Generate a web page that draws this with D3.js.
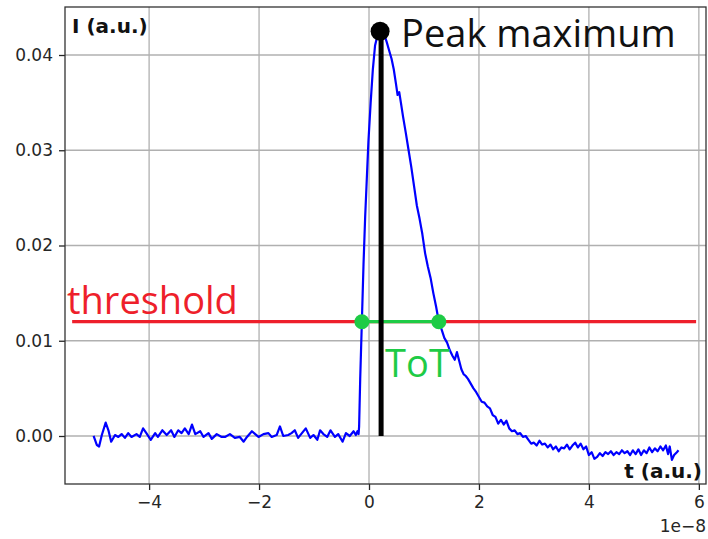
<!DOCTYPE html>
<html>
<head>
<meta charset="utf-8">
<script src="https://cdn.jsdelivr.net/npm/d3@7"></script>
<style>
  body { margin: 0; background: #fff; }
  svg { display: block; }
</style>
</head>
<body>
<svg id="chart" width="708" height="539"></svg>
<script>
// time axis in units of 1e-8, intensity in a.u.
const timeVals = [
  -5.01, -4.95, -4.91, -4.86, -4.79, -4.74, -4.69, -4.62, -4.56, -4.50, -4.44, -4.38, -4.32, -4.23,
  -4.17, -4.11, -4.05, -3.97, -3.89, -3.84, -3.76, -3.68, -3.60, -3.54, -3.47, -3.41, -3.35, -3.28,
  -3.22, -3.16, -3.07, -3.01, -2.92, -2.86, -2.77, -2.68, -2.62, -2.53, -2.44, -2.35, -2.28, -2.22,
  -2.13, -2.07, -2.01, -1.92, -1.83, -1.77, -1.68, -1.62, -1.56, -1.47, -1.41, -1.35, -1.29, -1.22,
  -1.15, -1.07, -1.01, -0.94, -0.89, -0.83, -0.76, -0.70, -0.62, -0.56, -0.48, -0.42, -0.35, -0.28,
  -0.24, -0.21, -0.19,
  -0.18, -0.16, -0.13, -0.10, -0.07, -0.04, -0.01, 0.03, 0.07, 0.11, 0.16, 0.22, 0.28, 0.32, 0.37,
  0.41, 0.45, 0.49, 0.52, 0.55, 0.58, 0.62, 0.67, 0.72, 0.77, 0.82, 0.87, 0.92, 0.97, 1.02, 1.07,
  1.12, 1.17, 1.22, 1.27, 1.32, 1.37, 1.42, 1.47, 1.52, 1.56, 1.60, 1.64, 1.68, 1.72, 1.76, 1.80,
  1.85, 1.90, 1.95, 2.00, 2.05, 2.10, 2.15, 2.20, 2.25, 2.30, 2.35, 2.40, 2.45, 2.50, 2.55, 2.60,
  2.65, 2.70, 2.75, 2.80, 2.85, 2.90, 2.95, 3.00, 3.05, 3.10, 3.15, 3.20, 3.25, 3.30, 3.35, 3.40,
  3.45, 3.50, 3.55, 3.60, 3.65, 3.70, 3.75, 3.80, 3.85, 3.90, 3.95, 4.00, 4.05, 4.10, 4.15, 4.20,
  4.25, 4.30, 4.35, 4.40, 4.45, 4.50, 4.55, 4.60, 4.65, 4.70, 4.75, 4.80, 4.85, 4.90, 4.95, 5.00,
  5.05, 5.10, 5.15, 5.20, 5.25, 5.30, 5.35, 5.40, 5.44, 5.47, 5.51, 5.55, 5.60, 5.63
];
const intensity = [
  0.0000, -0.00095, -0.0011, 0.0001, 0.0014, 0.0006, -0.0006, 0.0001, -0.0001, 0.0002, -0.0002, 0.0003, -0.0001, 0.0002,
  -0.0001, 0.0008, 0.0003, -0.0004, 0.0003, -0.0001, 0.0006, 0.0001, 0.0006, -0.0001, 0.0006, 0.0003, 0.0008, 0.0002,
  0.0012, 0.0002, 0.0005, -0.0001, 0.0003, -0.0003, 0.0002, -0.0001, -0.0001, 0.0002, -0.0002, -0.0001, -0.0006, -0.0001,
  0.0005, 0.0002, -0.0001, 0.0002, 0.0003, -0.0001, 0.0001, 0.0010, 0.0000, 0.0001, 0.0003, 0.0006, -0.0002, 0.0003,
  0.0008, -0.0002, 0.0001, -0.0004, 0.0006, 0.0002, -0.0001, 0.0006, -0.0001, 0.0002, -0.0006, 0.0003, 0.0000, 0.0005,
  0.0001, 0.0005, 0.0002,
  0.0010, 0.0060, 0.0120, 0.0180, 0.0230, 0.0270, 0.0310, 0.0350, 0.0385, 0.0410, 0.0422, 0.0425, 0.0421, 0.0414, 0.0404,
  0.0396, 0.0385, 0.0370, 0.0358, 0.0361, 0.0350, 0.0335, 0.0318, 0.0300, 0.0282, 0.0262, 0.0242, 0.0228, 0.0212, 0.0192, 0.0178,
  0.0166, 0.0150, 0.0136, 0.0120, 0.0112, 0.0103, 0.0098, 0.0090, 0.0084, 0.0080, 0.0088, 0.0079, 0.0070, 0.0065, 0.0063, 0.0060,
  0.0055, 0.0050, 0.0046, 0.0041, 0.0036, 0.0035, 0.0031, 0.0029, 0.0022, 0.0020, 0.0013, 0.0017, 0.0012, 0.0016, 0.0008, 0.0005,
  0.0006, 0.0002, 0.0003, -0.0001, 0.0000, -0.0004, -0.0008, -0.0007, -0.0010, -0.0005, -0.0009, -0.0008, -0.0012, -0.0009, -0.0014, -0.0011,
  -0.0016, -0.0012, -0.0013, -0.0009, -0.0014, -0.0010, -0.0007, -0.0012, -0.0008, -0.0014, -0.0011, -0.0020, -0.0017, -0.0024, -0.0022, -0.0018,
  -0.0021, -0.0017, -0.0019, -0.0016, -0.0020, -0.0017, -0.0019, -0.0015, -0.0018, -0.0016, -0.0020, -0.0015, -0.0019, -0.0014, -0.0020, -0.0015,
  -0.0018, -0.0012, -0.0017, -0.0013, -0.0016, -0.0011, -0.0015, -0.0010, -0.0019, -0.0011, -0.0025, -0.0020, -0.0017, -0.0015
];

const xTicks = [-4, -2, 0, 2, 4, 6];
const yTicks = [0.00, 0.01, 0.02, 0.03, 0.04];

const threshold = 0.012;
const thresholdSpan = [-5.4, 5.95];
const totCrossings = [-0.13, 1.27];
const peak = { t: 0.22, i: 0.0425 };

const svg = d3.select('#chart');
const margin = { left: 65, right: 2, top: 7, bottom: 55 };
const width = 708;
const height = 539;

const x = d3.scaleLinear().domain([-5.53, 6.13]).range([margin.left, width - margin.right]);
const y = d3.scaleLinear().domain([-0.00504, 0.04504]).range([height - margin.bottom, margin.top]);

const tickColor = '#262626';
const redColor = '#ee1f2b';
const greenColor = '#1ecb46';

// grid
svg.append('g').selectAll('line').data(xTicks).join('line')
  .attr('x1', (d) => x(d)).attr('x2', (d) => x(d))
  .attr('y1', y.range()[0]).attr('y2', y.range()[1])
  .attr('stroke', '#b0b0b0').attr('stroke-width', 1.3);
svg.append('g').selectAll('line').data(yTicks).join('line')
  .attr('y1', (d) => y(d)).attr('y2', (d) => y(d))
  .attr('x1', x.range()[0]).attr('x2', x.range()[1])
  .attr('stroke', '#b0b0b0').attr('stroke-width', 1.3);

// axes
const xAxis = svg.append('g')
  .attr('transform', `translate(0,${y.range()[0]})`)
  .call(d3.axisBottom(x).tickValues(xTicks).tickSize(6).tickPadding(6)
    .tickFormat((d) => (d < 0 ? '\u2212' + Math.abs(d) : d)));
const yAxis = svg.append('g')
  .attr('transform', `translate(${x.range()[0]},0)`)
  .call(d3.axisLeft(y).tickValues(yTicks).tickSize(6).tickPadding(6).tickFormat(d3.format('.2f')));

[xAxis, yAxis].forEach((g) => {
  g.select('.domain').remove();
  g.selectAll('.tick line').attr('stroke', tickColor).attr('stroke-width', 1.3);
  g.selectAll('.tick text').attr('fill', tickColor)
    .style('font-family', 'DejaVu Sans').style('font-size', '17px');
});

// frame
svg.append('rect')
  .attr('x', x.range()[0]).attr('y', y.range()[1])
  .attr('width', x.range()[1] - x.range()[0])
  .attr('height', y.range()[0] - y.range()[1])
  .attr('fill', 'none').attr('stroke', '#333').attr('stroke-width', 1.3);

// signal
const points = timeVals.map((t, k) => [t, intensity[k]]);
svg.append('path')
  .datum(points)
  .attr('fill', 'none')
  .attr('stroke', '#0000ff')
  .attr('stroke-width', 2.2)
  .attr('stroke-linejoin', 'round')
  .attr('d', d3.line().x((d) => x(d[0])).y((d) => y(d[1])));

// threshold
svg.append('line')
  .attr('x1', x(thresholdSpan[0])).attr('x2', x(thresholdSpan[1]))
  .attr('y1', y(threshold)).attr('y2', y(threshold))
  .attr('stroke', redColor).attr('stroke-width', 3.2);

svg.append('line')
  .attr('x1', x(totCrossings[0])).attr('x2', x(totCrossings[1]))
  .attr('y1', y(threshold)).attr('y2', y(threshold))
  .attr('stroke', greenColor).attr('stroke-width', 3.2);

// peak stem
svg.append('line')
  .attr('x1', x(peak.t)).attr('x2', x(peak.t))
  .attr('y1', y(peak.i)).attr('y2', y(0))
  .attr('stroke', '#000').attr('stroke-width', 5);

svg.append('g').selectAll('circle').data(totCrossings).join('circle')
  .attr('cx', (d) => x(d)).attr('cy', y(threshold)).attr('r', 7.5)
  .attr('fill', greenColor);

svg.append('circle')
  .attr('cx', x(peak.t) - 1).attr('cy', y(peak.i)).attr('r', 9.5)
  .attr('fill', '#000');

// annotations
const annoFont = "'Open Sans', 'Noto Sans', sans-serif";
svg.append('text')
  .attr('x', x(peak.t) + 20).attr('y', y(peak.i) + 16)
  .style('font-family', annoFont).style('font-size', '38px')
  .attr('fill', '#111')
  .text('Peak maximum');

svg.append('text')
  .attr('x', 67).attr('y', y(threshold) - 8)
  .style('font-family', annoFont).style('font-size', '38px')
  .attr('fill', redColor)
  .text('threshold');

svg.append('text')
  .attr('x', x(peak.t) + 4).attr('y', y(threshold) + 55)
  .style('font-family', annoFont).style('font-size', '38px')
  .attr('fill', greenColor)
  .text('ToT');

// axis labels
svg.append('text')
  .attr('x', x.range()[0] + 7).attr('y', y.range()[1] + 26)
  .style('font-family', 'DejaVu Sans').style('font-weight', 'bold').style('font-size', '20px')
  .attr('fill', '#111')
  .text('I (a.u.)');

svg.append('text')
  .attr('x', x.range()[1] - 4).attr('y', y.range()[0] - 6)
  .attr('text-anchor', 'end')
  .style('font-family', 'DejaVu Sans').style('font-weight', 'bold').style('font-size', '20px')
  .attr('fill', '#111')
  .text('t (a.u.)');

svg.append('text')
  .attr('x', x.range()[1]).attr('y', 532)
  .attr('text-anchor', 'end')
  .style('font-family', 'DejaVu Sans').style('font-size', '17px')
  .attr('fill', tickColor)
  .text('1e\u22128');
</script>
</body>
</html>
